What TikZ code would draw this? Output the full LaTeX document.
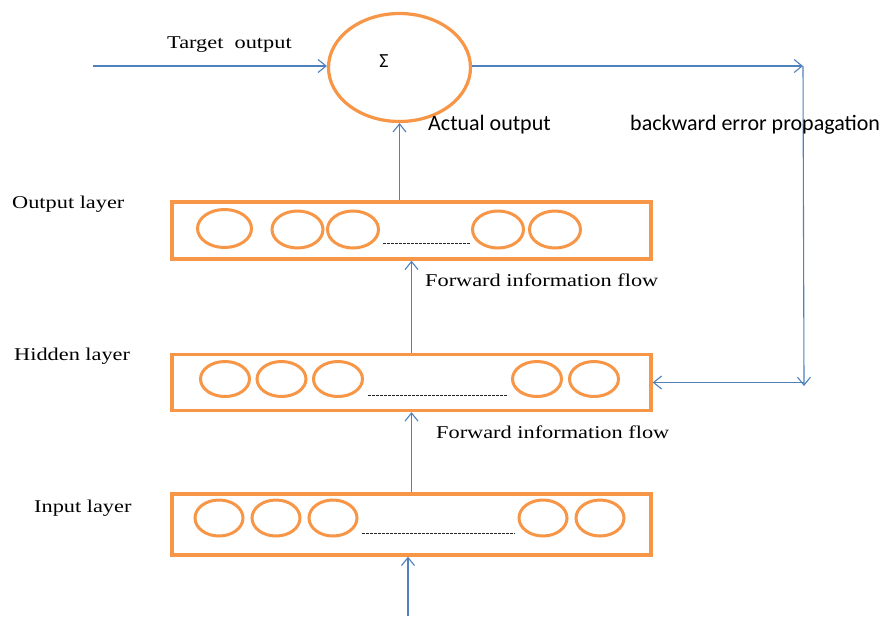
\documentclass[tikz,border=0pt]{standalone}
\usepackage{fontspec}
\setmainfont{Liberation Serif}
\newfontfamily\serifwide[FakeStretch=1.24]{Liberation Serif}
\newfontfamily\calib{Carlito}
\usetikzlibrary{arrows.meta,shapes.geometric}
\definecolor{accent}{HTML}{F79646}
\definecolor{flowblue}{HTML}{4F81BD}

\begin{document}
\begin{tikzpicture}[x=1pt,y=-1pt,
  layerbox/.style={draw=accent,line width=3.4pt,minimum width=479pt,inner sep=0pt},
  neuron/.style={ellipse,draw=accent,line width=3pt,inner sep=0pt},
  flow/.style={draw=flowblue,line width=1.1pt,-{Straight Barb[length=8pt,width=13pt,line width=1.1pt]}},
  serlabel/.style={font=\serifwide\fontsize{18}{20}\selectfont,inner sep=0pt,anchor=west},
  sanlabel/.style={font=\calib\fontsize{22}{24}\selectfont,inner sep=0pt,anchor=west},
  dots/.style={draw=black!85,line width=1pt,dash pattern=on 2.6pt off 1.4pt}]

\useasboundingbox (0,0) rectangle (882,616);
\fill[white] (0,0) rectangle (882,616);

% summing junction
\node[ellipse,draw=accent,line width=3.2pt,minimum width=142pt,minimum height=108pt] (sum) at (399.5,67.5) {};
\node[font=\calib\fontsize{20}{22}\selectfont,inner sep=0pt] (sigma) at (384,61) {Σ};

% layers
\node[layerbox,minimum height=57pt] (outbox) at (411.5,230.5) {};
\node[layerbox,minimum height=56pt] (hidbox) at (411.5,382.5) {};
\node[layerbox,minimum height=61pt] (inbox) at (411.5,524.5) {};

% neurons of each layer
\node[neuron,minimum width=54pt,minimum height=38pt] (o1) at (224.5,228.5) {};
\foreach \i/\x in {2/297.5,3/353,4/498,5/555}
  \node[neuron,minimum width=51pt,minimum height=37pt] (o\i) at (\x,229.5) {};
\foreach \i/\x in {1/225,2/281.5,3/338,4/537,5/594}
  \node[neuron,minimum width=49pt,minimum height=35pt] (h\i) at (\x,379) {};
\foreach \i/\x in {1/219,2/276,3/333,4/543,5/600}
  \node[neuron,minimum width=48pt,minimum height=36pt] (n\i) at (\x,518) {};

% elided neurons
\draw[dots] (383,243) -- (470,243);
\draw[dots] (368,395) -- (508,395);
\draw[dots] (362,533) -- (515,533);

% forward connectors
\coordinate (tin) at (93,66);
\coordinate (feed) at (408,616);
\draw[flow] (tin) -- (tin -| sum.west);
\draw[flow] (outbox.north -| sum.south) -- (sum.south);
\draw[flow] (hidbox.north) -- (outbox.south);
\draw[flow] (inbox.north) -- (hidbox.south);
\draw[flow] (feed) -- (feed |- inbox.south);

% error fed back to the hidden layer
\coordinate (bkA) at (803,66);
\coordinate (bkB) at (804,386);
\draw[flow] (tin -| sum.east) -- (bkA);
\draw[flow] (bkA) -- (bkB);
\draw[flow] (bkB |- hidbox.east) -- (hidbox.east);

% labels
\node[serlabel] (ltarget) at (167,45) {Target\ \ output};
\node[sanlabel] (lactual) at (428,125) {Actual output};
\node[sanlabel] (lback) at (630,125) {backward error propagation};
\node[serlabel] (lout) at (12,204) {Output layer};
\node[serlabel] (lfwd1) at (425,280) {Forward information flow};
\node[serlabel] (lhid) at (14,356) {Hidden layer};
\node[serlabel] (lfwd2) at (436,432) {Forward information flow};
\node[serlabel] (lin) at (34,508) {Input layer};
\end{tikzpicture}
\end{document}
